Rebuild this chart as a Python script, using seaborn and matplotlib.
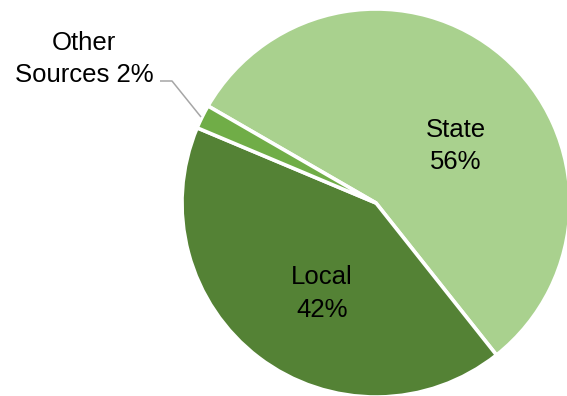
import matplotlib
matplotlib.use("Agg")
import matplotlib.pyplot as plt
import seaborn as sns

# Revenue shares by source
categories = ["State", "Local", "Other Sources"]
shares = [56, 42, 2]
colors = ["#A9D18E", "#548235", "#70AD47"]

sns.set_theme(style="white")
plt.rcParams["font.family"] = ["Liberation Sans", "DejaVu Sans"]

W, H = 567, 396
fig = plt.figure(figsize=(W / 100, H / 100), dpi=100)
ax = fig.add_axes([0, 0, 1, 1])

center = (376, 193)
radius = 194
wedges, _ = ax.pie(
    shares,
    colors=colors,
    startangle=150,
    counterclock=False,
    center=center,
    radius=radius,
    wedgeprops=dict(edgecolor="white", linewidth=2.6),
    frame=True,
)
ax.set_xlim(0, W)
ax.set_ylim(0, H)
ax.set_aspect("equal")
ax.axis("off")

labels = [f"{c}\n{v}%" for c, v in zip(categories[:2], shares[:2])]
label_pos = [(456, 250), (322, 102.5)]
for txt, (x, y) in zip(labels, label_pos):
    ax.text(x, y, txt, ha="center", va="center", fontsize=18.5,
            color="black", linespacing=1.45)

# Outside label for the thin slice, with a leader line
ax.text(84, 337, f"Other\n{categories[2].split()[1]} {shares[2]}%", ha="center",
        va="center", fontsize=18.5, color="black", linespacing=1.45)
ax.plot([160, 172, 201], [315, 315, 279], color="#A6A6A6", lw=1.1,
        solid_capstyle="butt")

fig.savefig("out.png", dpi=100)
